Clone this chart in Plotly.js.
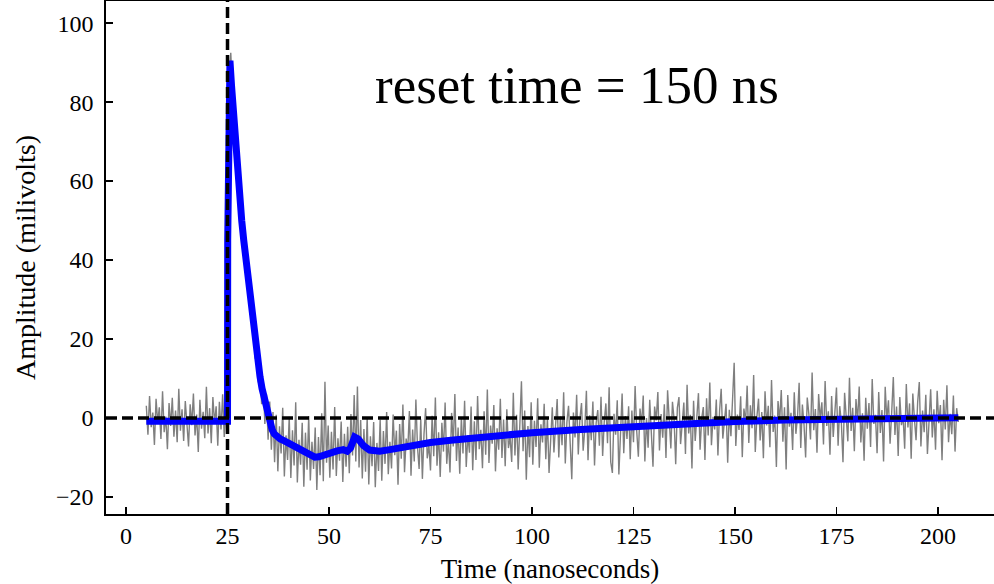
<!DOCTYPE html>
<html>
<head>
<meta charset="utf-8">
<script src="https://cdn.plot.ly/plotly-3.0.1.min.js"></script>
<style>
html,body{margin:0;padding:0;background:#fff;}
#chart{width:994px;height:584px;}
</style>
</head>
<body>
<div id="chart"></div>
<script>
// Raw (noisy) waveform, sampled every 0.4 ns from 5 ns to 205 ns
const rawStart = 5;      // ns
const rawStep = 0.4;     // ns
const rawAmplitude = [
  3.1, -4.2, 5.6, -2.3, 1.4, -6.8, 4.9, -1.1, 2.7, -5.3,
  6.8, -3.6, 0.4, -7.9, 3.8, -2.0, 5.1, -4.7, 1.9, -6.1,
  7.4, -3.2, 2.2, -5.8, 4.3, -0.6, -7.2, 3.5, -1.8, 6.2,
  -4.4, 0.9, -8.6, 4.6, -2.7, 1.6, -5.1, 7.9, -3.9, 2.5,
  -6.4, 5.3, -1.4, 3.0, -7.0, 4.1, -2.9, 6.0, -4.8, 1.2,
  -2.0, 86.0, 92.5, 83.0, 79.0, 66.0, 65.0, 55.0, 56.0, 47.0,
  48.0, 38.0, 41.0, 31.0, 33.0, 23.0, 25.0, 15.0, 19.0, 9.0,
  14.0, 3.5, 9.5, -1.5, 6.0, -5.5, 4.2, -8.0,
  1.5, -11.2, 0.8, -13.5, -2.1, -9.0, 2.6, -14.8, -4.4, -10.6,
  0.3, -15.2, -3.1, -12.0, 4.0, -16.3, -5.5, -11.8, -1.2, -17.4,
  -3.7, -13.1, 0.5, -15.8, -6.0, -12.9, -2.4, -18.2, -4.8, -14.5,
  1.2, -16.0, 9.2, -11.3, -1.9, -15.1, -3.5, -13.0, 2.8, -14.7,
  -5.1, -10.8, -0.9, -16.2, -4.0, -12.3, -2.2, -14.0, 1.0, -9.5,
  5.8, -11.0, 8.0, -12.5, -0.5, -15.3, -2.8, -13.6, 0.2, -16.8,
  -4.6, -12.2, -1.0, -17.5, -6.3, -13.4, -0.4, -15.9, -3.3, -11.6,
  1.5, -14.2,
  -6.0, -12.8, 0.9, -9.4, -3.2, -16.9, -1.5, -10.3, 3.4, -13.7,
  -5.2, -8.1, 1.8, -14.6, -2.9, -11.0, 4.7, -7.4, -12.9, -0.3,
  -15.4, -4.1, 2.5, -10.2, -6.8, -13.3, 0.6, -9.7, 5.2, -12.1,
  -3.6, -14.9, -1.2, -8.5, 3.9, -11.6, -5.5, -13.8, 1.3, -7.2,
  6.1, -10.9, -2.4, -14.1, 0.2, -9.0, 4.4, -12.4, -4.3, -8.8,
  2.9, -13.2, -0.8, -10.6, 5.6, -7.9, -3.0, -12.7, 1.7, -9.3,
  7.2, -11.4, -1.9, -6.5, 3.3, -13.5, -2.6, -8.0, 4.9, -10.1,
  -0.4, -12.2, 2.2, -7.6, -4.7, -11.1, 6.4, -9.5, 0.8, -13.0,
  -3.8, 9.3, -8.4, 1.9, -15.6, -2.0, -9.9, 4.0, -11.8, -0.7,
  -7.3, 5.0, -12.6, -1.6, -6.2, 3.6, -10.4, 0.1, -13.9, -4.5,
  2.7, -8.7, -2.3, 4.8, -10.0, 0.4, -6.9, 6.5, -11.5, -1.0,
  3.1, -7.8, -15.5, 1.4, -4.9, 5.9, -9.2, -0.2, 3.8, -8.3,
  -2.8, 6.9, -10.7, 0.7, -5.6, 4.2, -12.0, -1.3, 2.0, -7.0,
  5.4, -9.6, -0.9, 3.7, -6.4, 7.8, -11.2, -13.9, 1.1, -4.2,
  4.5, -14.3, -2.1, 6.2, -8.9, 0.5, -5.3, 3.0, -10.4, 1.9,
  -6.1, 8.1, -3.4, -9.8, 2.4, -1.7, 5.7, -11.0, 0.0, -7.5,
  4.6, -4.0, -12.3, 2.9, -0.6, 6.6, -8.2, 1.0, -5.0, 3.5,
  -10.1, 7.0, -2.5, -7.7, 4.1, -0.3, -11.7, 2.6, 5.3, -6.6,
  -1.4, 3.9, -9.1, 8.4, -3.9, 0.8, -12.8, 4.4, -5.8, 1.6,
  6.3, -8.0, -0.1, 2.8, -10.6, 5.0, -4.4, 9.0, -6.9, 0.3,
  -2.9, 4.7, -9.5, 1.8, 7.4, -5.2, -0.7, 3.6, -11.3, 2.1,
  -4.6, 6.0, 14.0, -7.1, 0.9, -3.0, 5.5, -9.9, 2.4, -1.2,
  8.2, -6.3, 3.2, -2.6, 10.9, -8.6, 0.4, 4.9, -5.7, 1.5,
  -10.2, 6.8, -1.9, 3.1, -7.4, 9.6, -3.5, 0.6, -12.4, 4.3,
  -0.8, 7.1, -6.0, 2.7, -13.0, 5.8, -2.2, 1.3, -8.1, 6.5,
  -4.0, 0.2, 8.9, -7.6, 3.4, -1.6, -10.0, 5.2, 1.0, -5.4,
  11.5, -3.1, 2.3, -8.8, 6.1, -0.4, 4.0, -6.7, 9.4, -2.0,
  1.7, -9.3, 5.6, -4.8, 0.7, 7.7, -7.0, 3.0, -1.1, -11.2,
  6.4, 0.1, -5.9, 10.2, -3.3, 2.6, -8.4, 4.8, -0.9, 8.0,
  -6.2, 1.2, -10.8, 5.1, -2.7, 3.8, -7.3, 9.9, -1.5, 0.8,
  -8.9, 6.6, -3.8, 2.0, -11.0, 7.9, -0.5, 4.5, -6.5, 1.4,
  10.4, -4.3, 2.9, -9.6, 5.3, -1.8, 0.6, -7.8, 8.6, -2.4,
  3.7, -10.3, 6.2, -0.2, -5.6, 4.1, 9.1, -7.2, 1.9, -3.6,
  5.9, -9.1, 0.5, 7.3, -4.9, 2.2, -8.0, 6.9, -1.3, 3.3,
  -10.7, 4.6, -2.9, 8.3, -6.1, 1.1, -4.1, 5.7, -8.5, 2.5,
  -1.0
];

// Fitted pulse (smooth curve)
const fitTime = [5, 25.0, 25.05, 25.15, 25.35, 25.6, 26.0, 26.5, 27.0, 27.5, 28.0, 28.5, 29.0, 29.5, 30.0, 30.5,
  31.0, 31.5, 32.0, 32.5, 33.0, 33.5, 34.0, 34.5, 35.0, 35.5, 36.0, 36.5, 37.0, 38, 39, 40, 42, 44, 45.5, 46.5,
  47.5, 48.5, 50, 52, 53.5, 54.5, 55.3, 56.3, 57.2, 58.5, 60, 62.5, 65, 70, 75, 80, 87, 95, 100, 112, 125, 137,
  150, 162, 175, 190, 205];
const fitAmplitude = [-0.8, -0.8, 45, 80, 89, 90.5, 84, 76, 68, 61.5, 55.5, 50, 45, 40.5, 36, 31.5,
  26, 21.5, 17.5, 13.8, 10.5, 7.5, 5, 2.5, 0.3, -1.5, -3, -4, -4.6, -5.3, -5.8, -6.3, -7.3, -8.5, -9.5, -9.9,
  -9.8, -9.4, -8.9, -8.3, -8.0, -8.4, -7.6, -4.8, -5.3, -7.0, -8.1, -8.4, -8.0, -6.9, -6.2, -5.6, -4.9, -4.1, -3.7, -2.9, -2.1, -1.5,
  -0.9, -0.5, -0.25, -0.05, 0.1];

const resetLabel = 'reset time = 150 ns';
const pulseTime = 25;
const xTicks = [0, 25, 50, 75, 100, 125, 150, 175, 200];
const yTicks = [-20, 0, 20, 40, 60, 80, 100];

const serif = '"Liberation Serif", "Times New Roman", serif';

const traces = [
  {
    type: 'scatter', mode: 'lines',
    x0: rawStart, dx: rawStep, y: rawAmplitude,
    line: {color: '#7f7f7f', width: 1.4},
    hoverinfo: 'skip', showlegend: false
  },
  {
    type: 'scatter', mode: 'lines',
    x: fitTime, y: fitAmplitude,
    line: {color: '#0000ff', width: 7, shape: 'linear'},
    showlegend: false
  }
];

const layout = {
  width: 994, height: 584,
  margin: {l: 106, r: 0, t: 1, b: 70, pad: 0},
  paper_bgcolor: '#ffffff', plot_bgcolor: '#ffffff',
  font: {family: serif, color: '#000000'},
  showlegend: false,
  xaxis: {
    range: [-4.93, 213.8],
    tickvals: xTicks, ticktext: xTicks.map(String),
    ticks: 'inside', ticklen: 7, tickwidth: 1.5, tickcolor: '#000',
    showline: true, linecolor: '#000', linewidth: 1.6, mirror: true,
    showgrid: false, zeroline: false,
    tickfont: {family: serif, size: 24, color: '#000'},
    ticklabelstandoff: 0,
    title: {text: 'Time (nanoseconds)', font: {family: serif, size: 27, color: '#000'}, standoff: 14}
  },
  yaxis: {
    range: [-24.3, 105.6],
    tickvals: yTicks, ticktext: yTicks.map(v => v < 0 ? '\u2212' + Math.abs(v) : String(v)),
    ticks: 'inside', ticklen: 7, tickwidth: 1.5, tickcolor: '#000',
    showline: true, linecolor: '#000', linewidth: 1.6, mirror: false,
    showgrid: false, zeroline: false,
    tickfont: {family: serif, size: 24, color: '#000'},
    ticklabelstandoff: 6,
    title: {text: 'Amplitude (milivolts)', font: {family: serif, size: 28, color: '#000'}, standoff: 12}
  },
  shapes: [
    {type: 'line', xref: 'x', yref: 'paper', x0: pulseTime, x1: pulseTime, y0: 0, y1: 1,
     line: {color: '#000', width: 3.5, dash: '11px,5px'}, layer: 'above'},
    {type: 'line', xref: 'paper', yref: 'y', x0: 0, x1: 1, y0: 0, y1: 0,
     line: {color: '#000', width: 3.5, dash: '11px,5px'}, layer: 'above'}
  ],
  annotations: [
    {xref: 'paper', yref: 'paper', x: 0.530, y: 0.836, xanchor: 'center', yanchor: 'middle',
     text: resetLabel, showarrow: false, font: {family: serif, size: 53, color: '#000'}}
  ]
};

Plotly.newPlot('chart', traces, layout, {displayModeBar: false, staticPlot: true});
</script>
</body>
</html>
